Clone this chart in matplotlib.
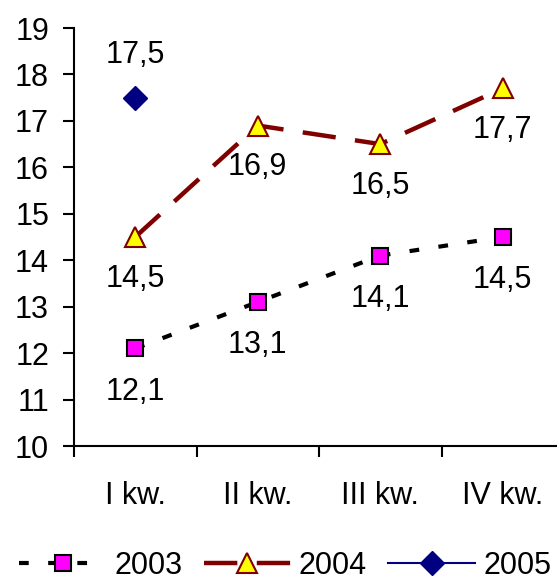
import matplotlib
matplotlib.use("Agg")
import matplotlib.pyplot as plt

plt.rcParams['font.family'] = ['Liberation Sans', 'DejaVu Sans']
plt.rcParams['lines.scale_dashes'] = False

# data
quarters = ["I kw.", "II kw.", "III kw.", "IV kw."]
years = ["2003", "2004", "2005"]
vals_2003 = [12.1, 13.1, 14.1, 14.5]
vals_2004 = [14.5, 16.9, 16.5, 17.7]
vals_2005 = [17.5]

fs = 22

fig = plt.figure(figsize=(5.57, 5.83), dpi=100)
# right edge of the plot area runs slightly past the picture, like the original
ax = fig.add_axes([74 / 557, 137 / 583, 490 / 557, 418 / 583])

x = list(range(len(quarters)))

l1, = ax.plot(x, vals_2003, color='black', lw=3, dashes=(7, 14),
              marker='s', markersize=12, markerfacecolor='#FF00FF',
              markeredgecolor='black', markeredgewidth=1.5, label=years[0])
l2, = ax.plot(x, vals_2004, color='#800000', lw=3.2, dashes=(24, 14),
              marker='^', markersize=15, markerfacecolor='#FFFF00',
              markeredgecolor='#800000', markeredgewidth=1.5, label=years[1])
l3, = ax.plot(x[:len(vals_2005)], vals_2005, color='#000080', lw=1.5,
              marker='D', markersize=12, markerfacecolor='#000080',
              markeredgecolor='#000080', label=years[2])

def fmt(v):
    return f"{v:.1f}".replace('.', ',')

for xi, v in zip(x, vals_2003):
    ax.annotate(fmt(v), (xi, v), xytext=(0, -31), textcoords='offset points',
                ha='center', va='center', fontsize=fs)
for xi, v in zip(x, vals_2004):
    ax.annotate(fmt(v), (xi, v), xytext=(0, -30), textcoords='offset points',
                ha='center', va='center', fontsize=fs)
for xi, v in zip(x, vals_2005):
    ax.annotate(fmt(v), (xi, v), xytext=(0, 31), textcoords='offset points',
                ha='center', va='center', fontsize=fs)

ax.set_xlim(-0.5, len(quarters) - 0.5)
ax.set_ylim(10, 19)
ax.set_yticks(range(10, 20))
ax.tick_params(axis='y', labelsize=fs, length=8, width=1.5, pad=10)

# boundaries get the tick marks, centres get the labels
ax.set_xticks([i - 0.5 for i in range(len(quarters) + 1)])
ax.set_xticklabels([])
ax.set_xticks(x, minor=True)
ax.set_xticklabels(quarters, minor=True)
ax.tick_params(axis='x', which='major', length=8, width=1.5, direction='out')
ax.tick_params(axis='x', which='minor', length=0, labelsize=fs, pad=25)

for side in ['top', 'right']:
    ax.spines[side].set_visible(False)
for side in ['left', 'bottom']:
    ax.spines[side].set_linewidth(1.5)

fig.legend(handles=[l1, l2, l3], loc='center left', bbox_to_anchor=(19 / 557, 0.03),
           ncol=3, frameon=False, fontsize=fs, handlelength=2.85,
           handletextpad=0.26, columnspacing=0.7, borderaxespad=0, borderpad=0)

fig.savefig("out.png", dpi=100)
